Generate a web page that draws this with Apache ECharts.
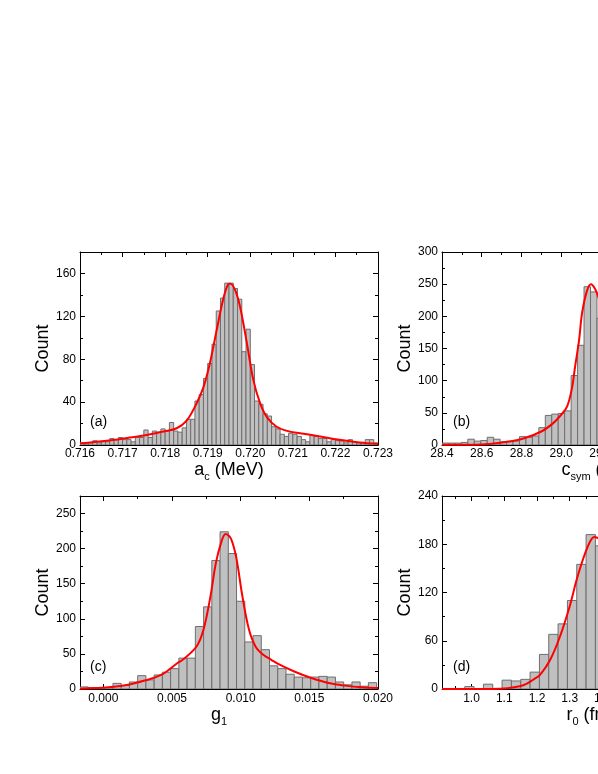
<!DOCTYPE html>
<html>
<head>
<meta charset="utf-8">
<script src="https://cdn.jsdelivr.net/npm/echarts@6/dist/echarts.min.js"></script>
<style>
  html, body { margin: 0; padding: 0; background: #fff; }
  #chart { width: 598px; height: 774px; }
</style>
</head>
<body>
<div id="chart"></div>
<script>
// (a) a_c histogram, bins of 0.0001 MeV from 0.716
const acStart = 0.716;
const acBinWidth = 0.0001;
const acCounts = [
  2, 1, 2, 4, 2, 3, 3, 6, 5, 7, 5, 5, 3, 7, 7, 14, 7, 13, 12, 15, 13, 21,
  13, 12, 16, 24, 24, 41, 47, 62, 76, 94, 125, 137, 151, 151, 146, 136, 87,
  108, 75, 41, 38, 29, 27, 17, 15, 10, 8, 11, 10,
  8, 5, 3, 9, 8, 6, 6, 3, 5, 4, 4, 2, 5, 3, 2, 2, 5, 5, 2
];
const acFit = [
  [0.7160, 1.5], [0.71678, 4.7], [0.71717, 7], [0.71757, 9.3], [0.71796, 12.5],
  [0.71827, 15.6], [0.71851, 23], [0.71874, 39], [0.7189, 54], [0.71905, 76],
  [0.71921, 107], [0.71937, 137], [0.71948, 150], [0.71953, 150.5], [0.71964, 145],
  [0.71976, 129], [0.71992, 95], [0.72007, 61], [0.72023, 39], [0.72039, 26],
  [0.72062, 17], [0.72093, 12.5], [0.72117, 11], [0.72157, 8.4], [0.72196, 5.6],
  [0.72235, 3.4], [0.72274, 1.6], [0.723, 1]
];
const acTicks = { min: 0.716, max: 0.723, step: 0.001 };

// (b) c_sym histogram
const csymStart = 28.4;
const csymBinWidth = 0.0325;
const csymCounts = [3, 3, 3, 4, 9, 6, 7, 12, 9, 5, 6, 6, 13, 12, 14, 27, 46, 48, 49, 53, 108, 155, 246, 238, 197];
const csymFit = [
  [28.4, 0.5], [28.56, 0.5], [28.64, 1.5], [28.73, 5], [28.81, 10], [28.9, 21],
  [28.96, 34], [29.0, 47], [29.03, 60], [29.054, 88], [29.07, 122], [29.09, 163],
  [29.105, 205], [29.13, 240], [29.15, 250], [29.17, 243], [29.187, 230], [29.22, 200]
];
const csymTicks = { min: 28.4, max: 29.9, step: 0.2 };

// (c) g1 histogram
const g1Start = -0.0017;
const g1BinWidth = 0.0006;
const g1Counts = [
  3, 2, 1, 2, 8, 5, 10, 19, 13, 20, 24, 29, 44, 44, 89, 117, 183, 224, 193, 125,
  67, 76, 56, 33, 29, 21, 17, 16, 17, 18, 17, 10, 6, 10, 4, 9
];
const g1Fit = [
  [-0.0017, 0.5], [0.0006, 3], [0.0018, 6], [0.003, 12], [0.0042, 20], [0.0054, 37],
  [0.0058, 42], [0.0068, 61], [0.0073, 85], [0.0078, 132], [0.0082, 180], [0.0086, 210],
  [0.0089, 221], [0.0093, 214], [0.0097, 185], [0.0101, 135], [0.0106, 85], [0.0111, 60],
  [0.0117, 48], [0.0122, 42], [0.0128, 35], [0.0139, 25], [0.0151, 16], [0.0164, 8.6],
  [0.0176, 4.8], [0.0188, 2.4], [0.02, 1.4]
];
const g1Ticks = [0, 0.005, 0.010, 0.015, 0.020];
const g1MinorTicks = [0.0025, 0.0075, 0.0125, 0.0175];

// (d) r0 histogram
const r0Start = 0.9225;
const r0BinWidth = 0.0285;
const r0Counts = [0, 0, 3, 0, 6, 0, 11, 10, 12, 21, 43, 68, 81, 110, 155, 192, 178];
const r0Fit = [
  [0.91, 0], [1.06, 0], [1.11, 1], [1.16, 5], [1.19, 12], [1.21, 18], [1.24, 36],
  [1.27, 65], [1.3, 103], [1.324, 140], [1.355, 177], [1.375, 189], [1.39, 187], [1.42, 180]
];
const r0Ticks = [1.0, 1.1, 1.2, 1.3, 1.4, 1.5, 1.6, 1.7, 1.8];
const r0MinorTicks = [0.95, 1.05, 1.15, 1.25, 1.35, 1.45, 1.55, 1.65, 1.75];

const FONT = '"Liberation Sans", Arial, Helvetica, sans-serif';
const BLACK = '#000';

const chart = echarts.init(document.getElementById('chart'), null, { renderer: 'canvas' });

// right-hand panels run past the page edge, as in the original
const grids = [
  { left: 80, top: 252, width: 298, height: 193 },
  { left: 442, top: 252, width: 298, height: 193 },
  { left: 80, top: 496, width: 298, height: 193 },
  { left: 442, top: 496, width: 298, height: 193 }
].map(g => Object.assign({ outerBoundsMode: 'none', containLabel: false }, g));

const xAxes = [];
const yAxes = [];
const series = [];

function baseAxis(gridIndex, position, min, max) {
  return {
    type: 'value', gridIndex, position, min, max,
    splitLine: { show: false },
    axisLine: { show: true, onZero: false, lineStyle: { color: BLACK, width: 1 } },
    axisTick: { show: true, inside: true, length: 5, lineStyle: { color: BLACK, width: 1 } },
    minorTick: { show: false },
    axisLabel: { show: false }
  };
}

function labelStyle(extra) {
  return Object.assign({ show: true, color: BLACK, fontSize: 12, fontFamily: FONT }, extra);
}

function intervalAxis(gridIndex, position, min, max, step, label) {
  const ax = baseAxis(gridIndex, position, min, max);
  ax.interval = step;
  ax.minorTick = { show: true, splitNumber: 2, length: 3, lineStyle: { color: BLACK, width: 1 } };
  if (label) ax.axisLabel = labelStyle(label);
  return ax;
}

function customAxis(gridIndex, position, min, max, ticks, len, label) {
  const ax = baseAxis(gridIndex, position, min, max);
  ax.axisTick.customValues = ticks;
  ax.axisTick.length = len;
  if (label) ax.axisLabel = labelStyle(Object.assign({ customValues: ticks }, label));
  else if (len < 5) ax.axisLine.show = false;
  return ax;
}

const nameRich = {
  n: { fontSize: 18, fontFamily: FONT, color: BLACK, verticalAlign: 'top', lineHeight: 22 },
  s: { fontSize: 11, fontFamily: FONT, color: BLACK, verticalAlign: 'bottom', lineHeight: 22 }
};

function xName(ax, name, gap, padding) {
  ax.name = name;
  ax.nameLocation = 'middle';
  ax.nameGap = gap;
  ax.nameTextStyle = { rich: nameRich, padding: padding || 0 };
  return ax;
}

function yName(ax) {
  ax.name = 'Count';
  ax.nameLocation = 'middle';
  ax.nameGap = 27;
  ax.nameTextStyle = { fontSize: 18, fontFamily: FONT, color: BLACK };
  return ax;
}

function histSeries(xi, yi, start, width, counts) {
  return {
    type: 'custom',
    xAxisIndex: xi, yAxisIndex: yi,
    clip: true, z: 2,
    encode: { x: [0, 1], y: 2 },
    data: counts.map((c, i) => [start + i * width, start + (i + 1) * width, c]),
    renderItem: function (params, api) {
      if (!api.value(2)) return null;
      const p0 = api.coord([api.value(0), api.value(2)]);
      const p1 = api.coord([api.value(1), 0]);
      return {
        type: 'rect',
        shape: { x: p0[0], y: p0[1], width: p1[0] - p0[0], height: p1[1] - p0[1] },
        style: { fill: '#c0c0c0', stroke: '#6e6e6e', lineWidth: 1 }
      };
    }
  };
}

function fitSeries(xi, yi, data) {
  return {
    type: 'line', xAxisIndex: xi, yAxisIndex: yi, data,
    symbol: 'none', showSymbol: false, smooth: 0.35, clip: true, z: 3,
    lineStyle: { color: '#ff0000', width: 2 }
  };
}

function yPair(g, max, step, hideMax) {
  const left = yName(intervalAxis(g, 'left', 0, max, step, { margin: 4, showMaxLabel: !hideMax }));
  const right = intervalAxis(g, 'right', 0, max, step, null);
  yAxes.push(left, right);
  return yAxes.length - 2;
}

// panel (a)
let xi = xAxes.length;
xAxes.push(
  xName(intervalAxis(0, 'bottom', acTicks.min, acTicks.max, acTicks.step,
    { margin: 3, formatter: v => v.toFixed(3) }), '{n|a}{s|c}{n| (MeV)}', 14),
  intervalAxis(0, 'top', acTicks.min, acTicks.max, acTicks.step, null)
);
let yi = yPair(0, 180, 40, true);
series.push(histSeries(xi, yi, acStart, acBinWidth, acCounts), fitSeries(xi, yi, acFit));

// panel (b)
xi = xAxes.length;
xAxes.push(
  xName(intervalAxis(1, 'bottom', csymTicks.min, csymTicks.max, csymTicks.step,
    { margin: 3, showMaxLabel: false, formatter: v => v.toFixed(1) }), '{n|c}{s|sym}{n| (MeV)}', 14, [0, 0, 0, 24]),
  intervalAxis(1, 'top', csymTicks.min, csymTicks.max, csymTicks.step, null)
);
yi = yPair(1, 300, 50, false);
series.push(histSeries(xi, yi, csymStart, csymBinWidth, csymCounts), fitSeries(xi, yi, csymFit));

// panel (c)
xi = xAxes.length;
xAxes.push(
  xName(customAxis(2, 'bottom', g1Start, 0.020, g1Ticks, 5,
    { margin: 4, formatter: v => v.toFixed(3) }), '{n|g}{s|1}', 16, [0, 20, 0, 0]),
  customAxis(2, 'top', g1Start, 0.020, g1Ticks, 5, null),
  customAxis(2, 'top', g1Start, 0.020, g1MinorTicks, 3, null),
  customAxis(2, 'bottom', g1Start, 0.020, g1MinorTicks, 3, null)
);
yi = yPair(2, 275, 50, true);
series.push(histSeries(xi, yi, g1Start, g1BinWidth, g1Counts), fitSeries(xi, yi, g1Fit));

// panel (d)
xi = xAxes.length;
xAxes.push(
  xName(customAxis(3, 'bottom', 0.91, 1.82, r0Ticks, 5,
    { margin: 4, formatter: v => v.toFixed(1) }), '{n|r}{s|0}{n| (fm)}', 16),
  customAxis(3, 'top', 0.91, 1.82, r0Ticks, 5, null),
  customAxis(3, 'top', 0.91, 1.82, r0MinorTicks, 3, null),
  customAxis(3, 'bottom', 0.91, 1.82, r0MinorTicks, 3, null)
);
yi = yPair(3, 240, 60, false);
series.push(histSeries(xi, yi, r0Start, r0BinWidth, r0Counts), fitSeries(xi, yi, r0Fit));

const panelLabels = [['(a)', 90, 415], ['(b)', 453, 415], ['(c)', 90, 660], ['(d)', 453, 660]];

chart.setOption({
  animation: false,
  backgroundColor: '#fff',
  grid: grids,
  xAxis: xAxes,
  yAxis: yAxes,
  series: series,
  graphic: panelLabels.map(([t, x, y]) => ({
    type: 'text', left: x, top: y, z: 10,
    style: { text: t, font: '14px ' + FONT, fill: BLACK }
  }))
});
</script>
</body>
</html>
